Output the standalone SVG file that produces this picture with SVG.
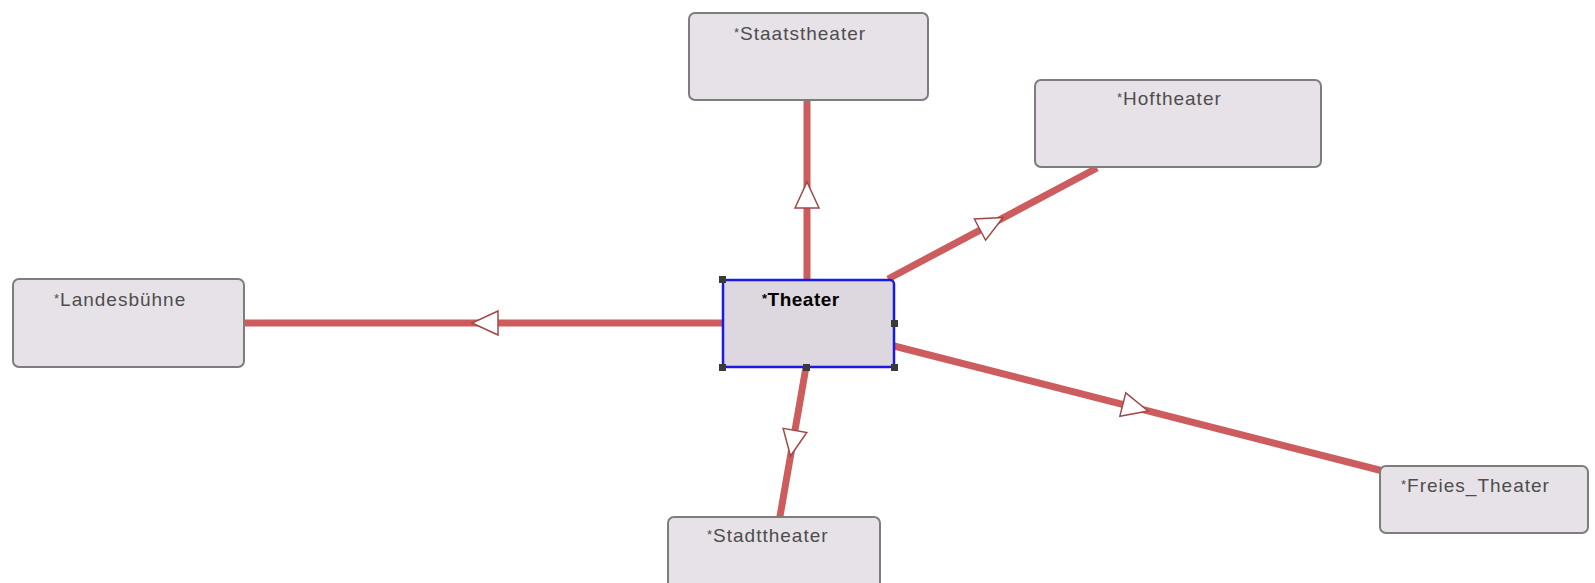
<svg xmlns="http://www.w3.org/2000/svg" xmlns:xlink="http://www.w3.org/1999/xlink" width="1595" height="583" viewBox="0 0 1595 583">
  <style>
    .box { fill: #e7e2e8; stroke: #7d7d7d; stroke-width: 2; }
    .main { fill: #ddd7e0; stroke: #1a1ae6; stroke-width: 2.5; }
    .label { font-family: "Liberation Sans", Arial, sans-serif; font-size: 19px; fill: #4d4d4d; letter-spacing: 1px; }
    .bold { font-weight: bold; fill: #000; letter-spacing: 0.5px; }
    .star { font-size: 13px; }
    .edge { stroke: #cd5c5e; stroke-width: 7; fill: none; }
    .handle { fill: #3a3a3a; }
  </style>
  <defs>
    <!-- hollow generalization arrow, tip at origin, pointing along +x -->
    <polygon id="arrow" points="0,0 -26,-12 -26,12" fill="#ffffff" stroke="#a04848" stroke-width="1.5" stroke-linejoin="miter"/>
  </defs>
  <rect width="1595" height="583" fill="#ffffff"/>

  <g id="connectors">
    <line class="edge" x1="807" y1="281" x2="807" y2="100"/>
    <line class="edge" x1="888" y1="279" x2="1097" y2="168"/>
    <line class="edge" x1="724" y1="323" x2="244" y2="323"/>
    <line class="edge" x1="806" y1="367" x2="779" y2="522"/>
    <line class="edge" x1="894" y1="346" x2="1383" y2="471"/>
    <use xlink:href="#arrow" transform="translate(807,182) rotate(-90)"/>
    <use xlink:href="#arrow" transform="translate(1003,217.5) rotate(-27.76)"/>
    <use xlink:href="#arrow" transform="translate(472,323) rotate(180)"/>
    <use xlink:href="#arrow" transform="translate(790.5,456) rotate(99.9)"/>
    <use xlink:href="#arrow" transform="translate(1148,411) rotate(14.34)"/>
  </g>

  <g id="Staatstheater">
    <rect class="box" x="689" y="13" width="239" height="87" rx="6"/>
    <text class="label" x="734" y="40"><tspan class="star" dy="-3">*</tspan><tspan dy="3">Staatstheater</tspan></text>
  </g>

  <g id="Hoftheater">
    <rect class="box" x="1035" y="80" width="286" height="87" rx="6"/>
    <text class="label" x="1117" y="105"><tspan class="star" dy="-3">*</tspan><tspan dy="3">Hoftheater</tspan></text>
  </g>

  <g id="Landesbuehne">
    <rect class="box" x="13" y="279" width="231" height="88" rx="6"/>
    <text class="label" x="54" y="306"><tspan class="star" dy="-3">*</tspan><tspan dy="3">Landesbühne</tspan></text>
  </g>

  <g id="Freies_Theater">
    <rect class="box" x="1380" y="466" width="208" height="67" rx="6"/>
    <text class="label" x="1401" y="492"><tspan class="star" dy="-3">*</tspan><tspan dy="3">Freies_Theater</tspan></text>
  </g>

  <g id="Stadttheater">
    <rect class="box" x="668" y="517" width="212" height="80" rx="6"/>
    <text class="label" x="707" y="542"><tspan class="star" dy="-3">*</tspan><tspan dy="3">Stadttheater</tspan></text>
  </g>

  <g id="Theater">
    <rect class="main" x="723" y="280" width="171" height="87" rx="4"/>
    <text class="label bold" x="762" y="306"><tspan class="star" dy="-3">*</tspan><tspan dy="3">Theater</tspan></text>
    <rect class="handle" x="719" y="276" width="7" height="7"/>
    <rect class="handle" x="891" y="320" width="7" height="7"/>
    <rect class="handle" x="719" y="364" width="7" height="7"/>
    <rect class="handle" x="803" y="364" width="7" height="7"/>
    <rect class="handle" x="891" y="364" width="7" height="7"/>
  </g>
</svg>
